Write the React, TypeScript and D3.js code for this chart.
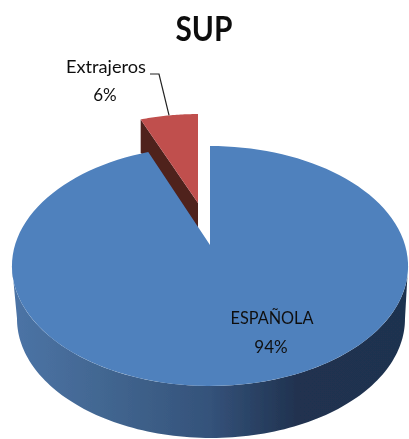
import React from "react";
import * as d3 from "d3";

const categories = ["ESPAÑOLA", "Extrajeros"];
const values = [94, 6];
const title = "SUP";
const colors = ["#4f81bd", "#c0504d"];
const wallStops = [
  { o: "0%", c: "#4c74a6" },
  { o: "25%", c: "#41658f" },
  { o: "50%", c: "#34527a" },
  { o: "72%", c: "#20324f" },
  { o: "100%", c: "#1f3350" },
];

const W = 409, H = 439;
const K = -0.175;

// perspective projection of the unit disc on to the page
type Frame = { cx: number; cy: number; sx: number; sy: number };
const project = (f: Frame, a: number, r = 1): [number, number] => {
  const u = r * Math.sin(a), v = -r * Math.cos(a), w = 1 + K * v;
  return [f.cx + (f.sx * u) / w, f.cy + (f.sy * v) / w];
};
const line = d3.line<[number, number]>();
const arcPts = (f: Frame, a0: number, a1: number, n = 120) =>
  d3.range(n + 1).map((i) => project(f, a0 + ((a1 - a0) * i) / n));

const pie = d3.pie<number>().sort(null);
const arcs = pie(values);
const [mainArc, sliceArc] = arcs;

const top: Frame = { cx: 210, cy: 245, sx: 195, sy: 116.3 };
const bottom: Frame = { cx: 211, cy: 298, sx: 191, sy: 115.5 };
const exploded: Frame = { cx: 198, cy: 203, sx: 181, sy: 104.5 };
const WALL = 33;

export default function App() {
  const sum = d3.sum(values);
  const pct = (v: number) => `${Math.round((v / sum) * 100)}%`;
  const mainTop = [...arcPts(top, mainArc.startAngle, mainArc.endAngle), [top.cx, top.cy] as [number, number]];

  // outer wall: visible front half of the rim, from right limb to left limb
  const front0 = Math.PI * 0.555, front1 = Math.PI * 1.445;
  const wall = [...arcPts(top, front0, front1), ...arcPts(bottom, front0, front1).reverse()];

  const sliceRim = arcPts(exploded, sliceArc.startAngle, sliceArc.endAngle, 30);
  const sliceTop = [[exploded.cx, exploded.cy] as [number, number], ...sliceRim];
  const rimStart = sliceRim[0];
  const sliceWall: [number, number][] = [
    rimStart,
    [exploded.cx, exploded.cy],
    [exploded.cx, exploded.cy + WALL],
    [rimStart[0], rimStart[1] + WALL],
  ];

  const leaderAnchor = project(exploded, (sliceArc.startAngle + sliceArc.endAngle) / 2);

  return (
    <svg
      width={W}
      height={H}
      viewBox={`0 0 ${W} ${H}`}
      style={{ position: "absolute", left: 0, top: 0, background: "#fff" }}
    >
      <defs>
        <linearGradient id="wall" gradientUnits="userSpaceOnUse" x1={12} x2={W} y1={0} y2={0}>
          {wallStops.map((s) => (
            <stop key={s.o} offset={s.o} stopColor={s.c} />
          ))}
        </linearGradient>
        <filter id="soft" x="-5%" y="-5%" width="110%" height="110%">
          <feGaussianBlur stdDeviation="0.45" />
        </filter>
      </defs>
      <g filter="url(#soft)">
        <path d={line(sliceWall) ?? ""} fill="#4f201f" />
        <path d={line(wall) + "Z"} fill="url(#wall)" />
        <path d={line(mainTop) + "Z"} fill={colors[0]} />
        <path d={line(sliceTop) + "Z"} fill={colors[1]} />
        <path
          d={line([[150, 74], [159, 74], leaderAnchor]) ?? ""}
          fill="none"
          stroke="#222"
          strokeWidth={1.2}
        />
        <g fontFamily="Lato, sans-serif" fill="#111" textAnchor="middle">
          <text x={204} y={41} fontSize={35} fontWeight={700} textLength={57} lengthAdjust="spacingAndGlyphs">{title}</text>
          <text x={106} y={73} fontSize={17} textLength={80} lengthAdjust="spacingAndGlyphs">{categories[1]}</text>
          <text x={105} y={101} fontSize={17}>{pct(values[1])}</text>
          <text x={272} y={324} fontSize={17} textLength={83} lengthAdjust="spacingAndGlyphs">{categories[0]}</text>
          <text x={271} y={353} fontSize={17}>{pct(values[0])}</text>
        </g>
      </g>
    </svg>
  );
}
